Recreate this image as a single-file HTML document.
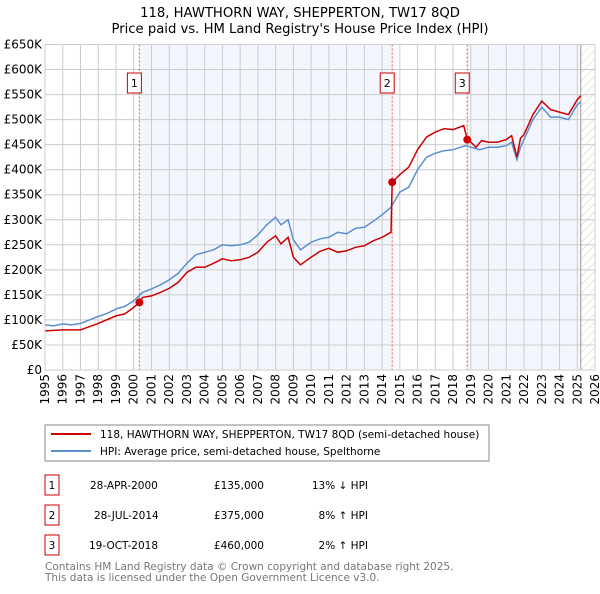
<!DOCTYPE html>
<html><head><meta charset="utf-8"><style>
body{margin:0;background:#fff;font-family:"DejaVu Sans","Liberation Sans",sans-serif;}
svg text{font-family:"DejaVu Sans","Liberation Sans",sans-serif;}
</style></head><body>
<svg id="c" width="600" height="590" xmlns="http://www.w3.org/2000/svg">
<defs><pattern id="hatch" width="6" height="6" patternUnits="userSpaceOnUse" patternTransform="rotate(45)"><line x1="0" y1="0" x2="0" y2="6" stroke="#ccc" stroke-width="1"/></pattern></defs>
<text x="300" y="17" text-anchor="middle" font-size="13.2">118, HAWTHORN WAY, SHEPPERTON, TW17 8QD</text>
<text x="300" y="33" text-anchor="middle" font-size="13.2">Price paid vs. HM Land Registry's House Price Index (HPI)</text>
<g id="plot"></g>
<rect x="45" y="425" width="444" height="36" fill="#fff" stroke="#888"/>
<line x1="51" y1="434" x2="91" y2="434" stroke="#cc0000" stroke-width="2"/>
<text x="100" y="438" font-size="10.5">118, HAWTHORN WAY, SHEPPERTON, TW17 8QD (semi-detached house)</text>
<line x1="51" y1="451" x2="91" y2="451" stroke="#5b8fd0" stroke-width="2"/>
<text x="100" y="455" font-size="10.5">HPI: Average price, semi-detached house, Spelthorne</text>
<g font-size="10.5">
<rect x="45" y="475" width="14" height="20" fill="#fff" stroke="#cc0000"/><text x="52" y="489" text-anchor="middle">1</text>
<text x="90" y="489">28-APR-2000</text><text x="264" y="489" text-anchor="end">£135,000</text><text x="368" y="489" text-anchor="end">13% ↓ HPI</text>
<rect x="45" y="505" width="14" height="20" fill="#fff" stroke="#cc0000"/><text x="52" y="519" text-anchor="middle">2</text>
<text x="94" y="519">28-JUL-2014</text><text x="264" y="519" text-anchor="end">£375,000</text><text x="368" y="519" text-anchor="end">8% ↑ HPI</text>
<rect x="45" y="535" width="14" height="20" fill="#fff" stroke="#cc0000"/><text x="52" y="549" text-anchor="middle">3</text>
<text x="89" y="549">19-OCT-2018</text><text x="264" y="549" text-anchor="end">£460,000</text><text x="368" y="549" text-anchor="end">2% ↑ HPI</text>
</g>
<text x="45" y="570" font-size="10.5" fill="#777">Contains HM Land Registry data © Crown copyright and database right 2025.</text>
<text x="45" y="581" font-size="10.5" fill="#777">This data is licensed under the Open Government Licence v3.0.</text>
</svg>
<script>
const yTicks=[0,50,100,150,200,250,300,350,400,450,500,550,600,650];
const yTickLabels=["£0","£50K","£100K","£150K","£200K","£250K","£300K","£350K","£400K","£450K","£500K","£550K","£600K","£650K"];
const xYears=[1995,1996,1997,1998,1999,2000,2001,2002,2003,2004,2005,2006,2007,2008,2009,2010,2011,2012,2013,2014,2015,2016,2017,2018,2019,2020,2021,2022,2023,2024,2025,2026];
const hpiT=[1995,1995.5,1996,1996.5,1997,1997.5,1998,1998.5,1999,1999.5,2000,2000.5,2001,2001.5,2002,2002.5,2003,2003.5,2004,2004.5,2005,2005.5,2006,2006.5,2007,2007.5,2008,2008.3,2008.7,2009,2009.4,2010,2010.5,2011,2011.5,2012,2012.5,2013,2013.5,2014,2014.5,2015,2015.5,2016,2016.5,2017,2017.5,2018,2018.7,2019,2019.5,2020,2020.5,2021,2021.3,2021.6,2021.8,2022,2022.5,2023,2023.5,2024,2024.5,2025,2025.2];
const hpiV=[90,88,92,90,93,100,107,113,122,127,138,155,162,170,180,193,213,230,235,240,250,248,250,255,270,290,305,290,300,260,240,255,262,265,275,272,283,285,297,310,325,355,365,400,425,433,438,440,448,445,440,445,445,448,455,420,445,460,500,525,505,505,500,530,535];
const redT=[1995,1996,1997,1998,1999,1999.5,2000,2000.32,2000.5,2001,2001.5,2002,2002.5,2003,2003.5,2004,2004.5,2005,2005.5,2006,2006.5,2007,2007.5,2008,2008.3,2008.7,2009,2009.4,2010,2010.5,2011,2011.5,2012,2012.5,2013,2013.5,2014,2014.5,2014.57,2015,2015.5,2016,2016.5,2017,2017.5,2018,2018.6,2018.8,2019,2019.3,2019.6,2020,2020.5,2021,2021.3,2021.6,2021.8,2022,2022.5,2023,2023.5,2024,2024.5,2025,2025.2];
const redV=[78,80,80,93,108,112,125,135,145,148,155,163,175,195,205,205,213,222,218,220,225,235,255,268,252,265,225,210,225,237,243,235,238,245,248,258,265,275,375,390,405,440,465,475,482,480,488,460,455,445,458,455,455,460,468,425,463,470,510,537,520,515,510,540,548];
const saleLabels=["1","2","3"];
const saleT=[2000.32,2014.57,2018.8];
const saleV=[135,375,460];
const x0=45,x1=595,yTop=44.5,yBot=370;
const X=t=>x0+(t-1995)/(2026-1995)*(x1-x0);
const Y=v=>yBot-v/650*(yBot-yTop);
const NS="http://www.w3.org/2000/svg";
const g=document.getElementById('plot');
function mk(tag,attrs){const e=document.createElementNS(NS,tag);for(const k in attrs)e.setAttribute(k,attrs[k]);g.appendChild(e);return e;}
const endT=2025.2;
let e;
e=mk('rect',{x:X(saleT[0]),y:yTop,width:X(saleT[1])-X(saleT[0]),height:yBot-yTop,fill:'#eef3fc',opacity:0.7});


e=mk('rect',{x:X(saleT[2]),y:yTop,width:X(endT)-X(saleT[2]),height:yBot-yTop,fill:'#eef3fc',opacity:0.7});


e=mk('rect',{x:X(endT),y:yTop,width:x1-X(endT),height:yBot-yTop,fill:'url(#hatch)'});


yTicks.forEach((v,i)=>{
 e=mk('line',{x1:x0,x2:x1,y1:Y(v),y2:Y(v),stroke:'#ccc','stroke-width':1});
 
 
 e=mk('text',{x:42,y:Y(v)+4,'text-anchor':'end','font-size':12});
 e.textContent=yTickLabels[i];
 
 
});
xYears.forEach(yr=>{
 e=mk('line',{x1:X(yr),x2:X(yr),y1:yTop,y2:yBot,stroke:'#ccc','stroke-width':1});
 
 
 e=mk('text',{x:0,y:0,'text-anchor':'end','font-size':12,transform:`translate(${X(yr)+4},374) rotate(-90)`});
 e.textContent=yr;
 
 
});
e=mk('line',{x1:X(endT),x2:X(endT),y1:yTop,y2:yBot,stroke:'#999','stroke-width':1});


saleT.forEach((t,i)=>{
 e=mk('line',{x1:X(t),x2:X(t),y1:yTop,y2:yBot,stroke:'#f05050','stroke-width':1,'stroke-dasharray':'2,2'});
 
 
});
const path=(T,V)=>T.map((t,i)=>(i?'L':'M')+X(t).toFixed(1)+','+Y(V[i]).toFixed(1)).join('');
e=mk('path',{d:path(hpiT,hpiV),fill:'none',stroke:'#5b8fd0','stroke-width':1.5});


e=mk('path',{d:path(redT,redV),fill:'none',stroke:'#cc0000','stroke-width':1.5});


saleT.forEach((t,i)=>{
 e=mk('circle',{cx:X(t),cy:Y(saleV[i]),r:4,fill:'#cc0000'});
 
 
 e=mk('rect',{x:X(t)-12,y:73,width:14,height:20,fill:'#fff',stroke:'#cc0000'});
 
 
 e=mk('text',{x:X(t)-5,y:87,'text-anchor':'middle','font-size':11});
 e.textContent=saleLabels[i];
 
 
});
e=mk('rect',{x:x0,y:yTop,width:x1-x0,height:yBot-yTop,fill:'none',stroke:'#ccc'});


</script>
</body></html>
